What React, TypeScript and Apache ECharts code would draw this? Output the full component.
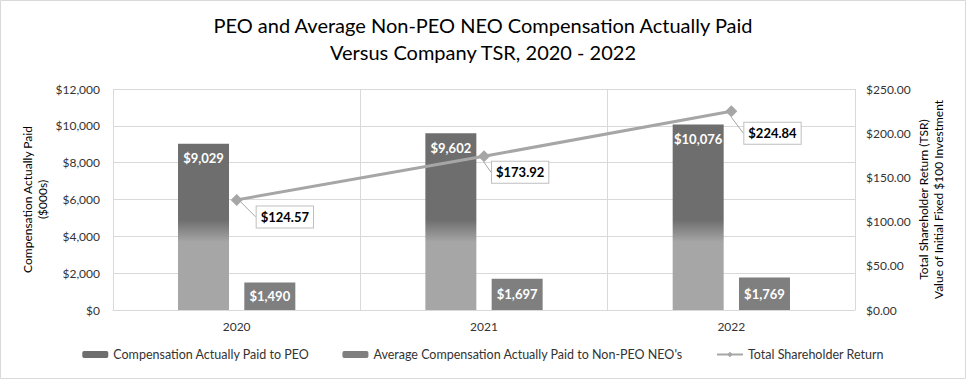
import React, { useEffect, useRef } from "react";
import * as echarts from "echarts";

const categories = ["2020", "2021", "2022"];
const peoValues = [9029, 9602, 10076];
const nonPeoValues = [1490, 1697, 1769];
const tsrValues = [124.57, 173.92, 224.84];
const seriesNames = [
  "Compensation Actually Paid to PEO",
  "Average Compensation Actually Paid to Non-PEO NEO's",
  "Total Shareholder Return",
];

const FONT = "Lato, 'Open Sans', sans-serif";
const W = 966;
const H = 379;

export default function App() {
  const ref = useRef<HTMLDivElement>(null);
  useEffect(() => {
    if (!ref.current) return;
    const chart = echarts.init(ref.current, null, { renderer: "svg" });
    const peoGradient = new echarts.graphic.LinearGradient(
      0,
      0,
      0,
      H,
      [
        { offset: 0, color: "#6e6e6e" },
        { offset: 220 / H, color: "#6e6e6e" },
        { offset: 242 / H, color: "#a6a6a6" },
        { offset: 1, color: "#a6a6a6" },
      ],
      true
    );
    const dx = [9, -3, 2];
    const dy = [17, 16, 22];
    chart.setOption({
      animation: false,
      backgroundColor: "#ffffff",
      textStyle: { fontFamily: FONT },
      title: {
        text: "PEO and Average Non-PEO NEO Compensation Actually Paid\nVersus Company TSR, 2020 - 2022",
        left: "center",
        top: 6,
        textStyle: {
          fontFamily: FONT,
          fontSize: 20,
          fontWeight: "normal",
          color: "#000000",
          lineHeight: 27,
        },
      },
      graphic: [
        {
          type: "rect",
          shape: { x: 0.5, y: 0.5, width: W - 1, height: H - 1 },
          style: { fill: "none", stroke: "#d9d9d9", lineWidth: 1 },
          silent: true,
        },
      ],
      legend: {
        bottom: 13,
        left: "center",
        itemWidth: 26,
        itemHeight: 7,
        itemGap: 33,
        textStyle: { fontFamily: FONT, fontSize: 12.5, color: "#333333" },
        data: [
          { name: seriesNames[0], itemStyle: { color: "#6e6e6e" } },
          { name: seriesNames[1], itemStyle: { color: "#7f7f7f" } },
          { name: seriesNames[2] },
        ],
      },
      grid: { left: 113, right: 111, top: 89, bottom: 69 },
      xAxis: {
        type: "category",
        data: categories,
        axisLine: { lineStyle: { color: "#d9d9d9" } },
        axisTick: { show: false },
        axisLabel: { color: "#333333", fontSize: 12, margin: 10, fontFamily: FONT },
        splitLine: { show: true, lineStyle: { color: "#d9d9d9" } },
      },
      yAxis: [
        {
          type: "value",
          min: 0,
          max: 12000,
          interval: 2000,
          name: "Compensation Actually Paid\n($000s)",
          nameLocation: "middle",
          nameRotate: 90,
          nameGap: 63,
          nameMoveOverlap: false,
          nameTextStyle: { fontFamily: FONT, fontSize: 12, color: "#000000", lineHeight: 15 },
          axisLabel: {
            color: "#333333",
            fontSize: 12,
            margin: 13,
            fontFamily: FONT,
            formatter: (v: number) => "$" + v.toLocaleString("en-US"),
          },
          axisLine: { show: false },
          axisTick: { show: false },
          splitLine: { lineStyle: { color: "#d9d9d9" } },
        },
        {
          type: "value",
          min: 0,
          max: 250,
          interval: 50,
          name: "Total Shareholder Return (TSR)\nValue of Initial Fixed $100 Investment",
          nameLocation: "middle",
          nameRotate: 90,
          nameGap: 61,
          nameMoveOverlap: false,
          nameTextStyle: { fontFamily: FONT, fontSize: 12, color: "#000000", lineHeight: 15 },
          axisLabel: {
            color: "#333333",
            fontSize: 12,
            margin: 11,
            fontFamily: FONT,
            formatter: (v: number) => "$" + v.toFixed(2),
          },
          axisLine: { show: false },
          axisTick: { show: false },
          splitLine: { show: false },
        },
      ],
      series: [
        {
          name: seriesNames[0],
          type: "bar",
          data: peoValues,
          barWidth: 51,
          barGap: "30%",
          itemStyle: { color: peoGradient },
          label: {
            show: true,
            position: "insideTop",
            distance: 8,
            color: "#ffffff",
            fontSize: 13,
            fontWeight: "bold",
            fontFamily: FONT,
            formatter: (p: any) => "$" + Number(p.value).toLocaleString("en-US"),
          },
        },
        {
          name: seriesNames[1],
          type: "bar",
          data: nonPeoValues,
          barWidth: 51,
          itemStyle: { color: "#7f7f7f" },
          label: {
            show: true,
            position: "inside",
            color: "#ffffff",
            fontSize: 13,
            fontWeight: "bold",
            fontFamily: FONT,
            formatter: (p: any) => "$" + Number(p.value).toLocaleString("en-US"),
          },
        },
        {
          name: seriesNames[2],
          type: "line",
          yAxisIndex: 1,
          data: tsrValues,
          symbol: "diamond",
          symbolSize: 12,
          lineStyle: { color: "#a6a6a6", width: 3 },
          itemStyle: { color: "#a6a6a6" },
          z: 5,
          label: {
            show: true,
            position: "right",
            distance: 5,
            color: "#000000",
            fontWeight: "bold",
            fontSize: 13,
            fontFamily: FONT,
            backgroundColor: "#ffffff",
            borderColor: "#bfbfbf",
            borderWidth: 1,
            padding: [4, 4, 4, 4],
            formatter: (p: any) => "$" + Number(p.value).toFixed(2),
          },
          labelLine: { show: true, lineStyle: { color: "#a6a6a6", width: 1 } },
          labelLayout: (params: any) => ({
            dx: dx[params.dataIndex],
            dy: dy[params.dataIndex],
          }),
        },
      ],
    });
    return () => chart.dispose();
  }, []);
  return (
    <div
      ref={ref}
      style={{ position: "fixed", left: 0, top: 0, width: W, height: H }}
    />
  );
}
